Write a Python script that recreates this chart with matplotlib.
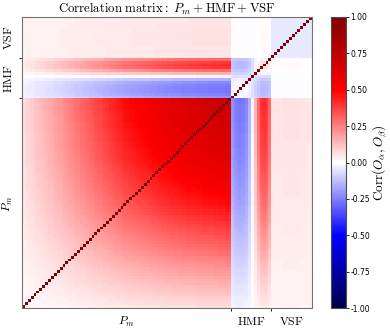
import numpy as np
import matplotlib
matplotlib.use("Agg")
import matplotlib.pyplot as plt

plt.rcParams['mathtext.fontset'] = 'cm'

# --- block names and sizes ---
blocks = ['P_m', 'HMF', 'VSF']
n_pm, n_hmf, n_vsf = 72, 14, 14

# --- per-bin loadings ---
# P_m bins: weak correlation at low k, strong at high k
load_pm = [0.08, 0.10, 0.11, 0.12, 0.14, 0.15, 0.16, 0.17, 0.19, 0.20,
           0.21, 0.23, 0.24, 0.25, 0.27, 0.28, 0.30, 0.31, 0.33, 0.34,
           0.36, 0.37, 0.39, 0.40, 0.41, 0.43, 0.44, 0.45, 0.47, 0.48,
           0.50, 0.51, 0.53, 0.54, 0.55, 0.57, 0.58, 0.59, 0.60, 0.61,
           0.62, 0.63, 0.64, 0.65, 0.66, 0.67, 0.68, 0.69, 0.70, 0.71,
           0.72, 0.73, 0.74, 0.74, 0.75, 0.76, 0.76, 0.77, 0.78, 0.78,
           0.79, 0.79, 0.80, 0.80, 0.81, 0.81, 0.82, 0.82, 0.83, 0.83,
           0.84, 0.84]
# HMF bins: anti-correlated at low mass, correlated at high mass
load_hmf = [-0.26, -0.30, -0.32, -0.32, -0.31, -0.28, -0.18,
            -0.02, 0.18, 0.35, 0.48, 0.50, 0.47, 0.36]
# VSF bins: weakly correlated with everything
load_vsf = [0.07, 0.08, 0.08, 0.08, 0.09, 0.09, 0.09,
            0.09, 0.09, 0.09, 0.08, 0.08, 0.07, 0.07]

# block-pair scale and offset (P_m, HMF, VSF)
block_scale = [[1.0, 1.0, 0.5],
               [1.0, 0.5, 0.2],
               [0.5, 0.2, 0.0]]
block_offset = [[0.00, 0.00, 0.02],
                [0.00, -0.06, 0.00],
                [0.02, 0.00, -0.04]]

cbar_ticks = [-1.0, -0.75, -0.5, -0.25, 0.0, 0.25, 0.5, 0.75, 1.0]

# --- assemble the correlation matrix ---
load = np.array(load_pm + load_hmf + load_vsf)
block_id = np.repeat([0, 1, 2], [n_pm, n_hmf, n_vsf])
S = np.array(block_scale)[block_id][:, block_id]
O = np.array(block_offset)[block_id][:, block_id]
corr = S * np.outer(load, load) + O
np.fill_diagonal(corr, 1.0)

edges = np.cumsum([n_pm, n_hmf, n_vsf]) - 0.5
centers = edges - np.array([n_pm, n_hmf, n_vsf]) / 2

# --- plot ---
fig = plt.figure(figsize=(3.9, 3.3), dpi=100)
ax = fig.add_axes([22/390, 22/330, 290/390, 291/330])
im = ax.imshow(corr, cmap='seismic', vmin=-1, vmax=1, origin='lower',
               interpolation='nearest', aspect='auto')

labels = [r'$%s$' % b if b == 'P_m' else r'$\mathrm{%s}$' % b for b in blocks]
ax.set_xticks(edges[:-1])
ax.set_xticklabels([])
ax.set_yticks(edges[:-1])
ax.set_yticklabels([])
ax.set_xticks(centers, minor=True)
ax.set_xticklabels(labels, minor=True, fontsize=8.5)
ax.set_yticks(centers, minor=True)
ax.set_yticklabels(labels, minor=True, fontsize=8.5, rotation=90, va='center')
ax.tick_params(which='minor', length=0, pad=5)
ax.tick_params(which='major', length=2.5, width=0.6)
for sp in ax.spines.values():
    sp.set_color('0.45')

ax.set_title(r'$\mathrm{Correlation\ matrix:}\ P_m + \mathrm{HMF} + \mathrm{VSF}$',
             fontsize=9.2, pad=3)

cax = fig.add_axes([331/390, 22/330, 14.6/390, 291/330])
cb = fig.colorbar(im, cax=cax, ticks=cbar_ticks)
cb.ax.set_yticklabels(['%.2f' % t for t in cbar_ticks])
cb.ax.tick_params(labelsize=5.5, length=2, width=0.6, pad=1.5)
cb.set_label(r'$\mathrm{Corr}(O_\alpha, O_\beta)$', fontsize=9.5, labelpad=0)
cb.outline.set_edgecolor('0.3')

fig.savefig('out.png', dpi=100)
